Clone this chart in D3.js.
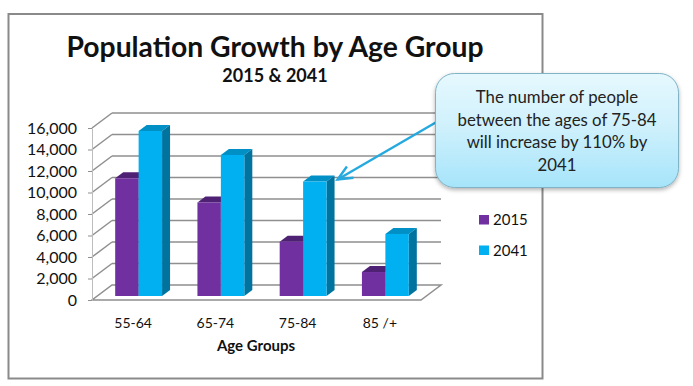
<!DOCTYPE html>
<html>
<head>
<meta charset="utf-8">
<script src="https://cdn.jsdelivr.net/npm/d3@7"></script>
<style>
    html, body { margin: 0; padding: 0; background: #fff; }
    svg { display: block; }
    text { font-family: Lato, "Open Sans", sans-serif; fill: #111; }
    .y-axis text { font-size: 16px; }
    .x-axis text { font-size: 14px; }
</style>
</head>
<body>
<div id="chart"></div>
<script>
const ageGroups = ['55-64', '65-74', '75-84', '85 /+'];
const years = ['2015', '2041'];
const values2015 = [10950, 8700, 5050, 2230];
const values2041 = [15350, 13120, 10650, 5770];
const yTicks = [0, 2000, 4000, 6000, 8000, 10000, 12000, 14000, 16000];
const calloutLines = ['The number of people', 'between the ages of 75-84', 'will increase by 110% by', '2041'];

const width = 693, height = 386;
const frame = {x: 8.5, y: 14, w: 534, h: 364.5};
const plot = {left: 92, right: 421, top: 128, bottom: 300};
const depth = {x: 20, y: -15};     // floor depth of the fake 3d
const barDepth = {x: 8, y: -6};    // depth of a single bar
const barShift = {x: 5.5, y: -4};  // bars stand a bit behind the front edge

const colors = {
    '2015': {front: '#7030a0', top: '#4f2174', side: '#4f2174'},
    '2041': {front: '#00b0f0', top: '#0090c6', side: '#00739f'}
};
const gridColor = '#8f8f8f';

const svg = d3.select('#chart').append('svg')
    .attr('width', width)
    .attr('height', height);

const defs = svg.append('defs');

const grad = defs.append('linearGradient')
    .attr('id', 'calloutFill')
    .attr('x1', 0).attr('y1', 0).attr('x2', 0).attr('y2', 1);
grad.append('stop').attr('offset', '0%').attr('stop-color', '#e6f8fe');
grad.append('stop').attr('offset', '45%').attr('stop-color', '#d0f1fc');
grad.append('stop').attr('offset', '100%').attr('stop-color', '#a6e4fa');

const shadow = defs.append('filter')
    .attr('id', 'calloutShadow')
    .attr('x', '-10%').attr('y', '-10%').attr('width', '120%').attr('height', '125%');
shadow.append('feDropShadow')
    .attr('dx', 0).attr('dy', 2).attr('stdDeviation', 2)
    .attr('flood-color', '#000').attr('flood-opacity', 0.3);

// outer frame
svg.append('rect')
    .attr('x', frame.x).attr('y', frame.y)
    .attr('width', frame.w).attr('height', frame.h)
    .attr('fill', '#fff')
    .attr('stroke', '#8a8a8a')
    .attr('stroke-width', 2);

// scales
const x = d3.scaleBand()
    .domain(ageGroups)
    .range([plot.left, plot.right])
    .paddingInner(0.43)
    .paddingOuter(0.215);
const xInner = d3.scaleBand()
    .domain(years)
    .range([0, x.bandwidth()]);
const y = d3.scaleLinear()
    .domain([0, 16000])
    .range([plot.bottom, plot.top]);

// back wall, side wall and floor
const walls = svg.append('g')
    .attr('fill', 'none')
    .attr('stroke', gridColor)
    .attr('stroke-width', 1.5);

walls.selectAll('line.back')
    .data(yTicks.slice(1))
    .join('line')
    .attr('class', 'back')
    .attr('x1', plot.left + depth.x)
    .attr('x2', plot.right + depth.x)
    .attr('y1', d => y(d) + depth.y)
    .attr('y2', d => y(d) + depth.y);

walls.selectAll('line.side')
    .data(yTicks.slice(1))
    .join('line')
    .attr('class', 'side')
    .attr('x1', plot.left)
    .attr('x2', plot.left + depth.x)
    .attr('y1', d => y(d))
    .attr('y2', d => y(d) + depth.y);

walls.append('path')
    .attr('d', d3.line()([
        [plot.left, plot.bottom],
        [plot.right, plot.bottom],
        [plot.right + depth.x, plot.bottom + depth.y],
        [plot.left + depth.x, plot.bottom + depth.y]
    ]) + 'Z');

// axes
const yAxis = d3.axisLeft(y)
    .tickValues(yTicks)
    .tickFormat(d3.format(','))
    .tickSize(4)
    .tickPadding(11);
const xAxis = d3.axisBottom(x)
    .tickSize(0)
    .tickPadding(18);

const yAxisG = svg.append('g')
    .attr('class', 'axis y-axis')
    .attr('transform', `translate(${plot.left},0)`)
    .call(yAxis);
yAxisG.select('.domain').attr('stroke', '#bdbdbd');
yAxisG.selectAll('.tick line').attr('stroke', gridColor);

const xAxisG = svg.append('g')
    .attr('class', 'axis x-axis')
    .attr('transform', `translate(0,${plot.bottom})`)
    .call(xAxis);
xAxisG.select('.domain').remove();

// bars
const rows = ageGroups.flatMap((g, i) => [
    {group: g, year: '2015', value: values2015[i]},
    {group: g, year: '2041', value: values2041[i]}
]);
const barLeft = d => x(d.group) + xInner(d.year) + barShift.x;
const barRight = d => barLeft(d) + xInner.bandwidth();
const barTop = d => y(d.value) + barShift.y;
const barBase = y(0) + barShift.y;

const bars = svg.append('g').attr('class', 'bars')
    .selectAll('g')
    .data(rows)
    .join('g');

bars.append('path')
    .attr('fill', d => colors[d.year].top)
    .attr('d', d => d3.line()([
        [barLeft(d), barTop(d)],
        [barLeft(d) + barDepth.x, barTop(d) + barDepth.y],
        [barRight(d) + barDepth.x, barTop(d) + barDepth.y],
        [barRight(d), barTop(d)]
    ]) + 'Z');

bars.append('path')
    .attr('fill', d => colors[d.year].side)
    .attr('d', d => d3.line()([
        [barRight(d), barTop(d)],
        [barRight(d) + barDepth.x, barTop(d) + barDepth.y],
        [barRight(d) + barDepth.x, barBase + barDepth.y],
        [barRight(d), barBase]
    ]) + 'Z');

bars.append('rect')
    .attr('x', barLeft)
    .attr('y', barTop)
    .attr('width', xInner.bandwidth())
    .attr('height', d => barBase - barTop(d))
    .attr('fill', d => colors[d.year].front);

// titles
svg.append('text')
    .attr('x', 275).attr('y', 57)
    .attr('text-anchor', 'middle')
    .style('font-size', '28.3px')
    .style('font-weight', 700)
    .text('Population Growth by Age Group');
svg.append('text')
    .attr('x', 275).attr('y', 82)
    .attr('text-anchor', 'middle')
    .style('font-size', '18px')
    .style('font-weight', 700)
    .text('2015 & 2041');
svg.append('text')
    .attr('x', 256).attr('y', 351)
    .attr('text-anchor', 'middle')
    .style('font-size', '15px')
    .style('font-weight', 700)
    .text('Age Groups');

// legend
const legend = svg.append('g')
    .selectAll('g')
    .data(years)
    .join('g')
    .attr('transform', (d, i) => `translate(479,${215 + i * 30.5})`);
legend.append('rect')
    .attr('width', 10).attr('height', 9.5)
    .attr('fill', d => colors[d].front);
legend.append('text')
    .attr('x', 14).attr('y', 10)
    .style('font-size', '15px')
    .text(d => d);

// arrow from the callout to the 75-84 bar
const target = rows.find(d => d.group === '75-84' && d.year === '2041');
const tip = [barRight(target) + barDepth.x + 3, barTop(target) - 2];
const tail = [440, 120];
const angle = Math.atan2(tail[1] - tip[1], tail[0] - tip[0]);
const head = s => [tip[0] + 16 * Math.cos(angle + s), tip[1] + 16 * Math.sin(angle + s)];

const arrow = svg.append('g')
    .attr('fill', 'none')
    .attr('stroke', '#25a9df')
    .attr('stroke-width', 2.4);
arrow.append('path').attr('d', d3.line()([tail, tip]));
arrow.append('path').attr('d', d3.line()([head(0.42), tip, head(-0.42)]));

// callout
svg.append('rect')
    .attr('x', 435.5).attr('y', 73.5)
    .attr('width', 243).attr('height', 114)
    .attr('rx', 19).attr('ry', 19)
    .attr('fill', 'url(#calloutFill)')
    .attr('stroke', '#7fb3c5')
    .attr('stroke-width', 1)
    .attr('filter', 'url(#calloutShadow)');

svg.append('g')
    .selectAll('text')
    .data(calloutLines)
    .join('text')
    .attr('x', 557)
    .attr('y', (d, i) => 103 + i * 22.5)
    .attr('text-anchor', 'middle')
    .style('font-size', '16.8px')
    .style('fill', '#222')
    .text(d => d);
</script>
</body>
</html>
